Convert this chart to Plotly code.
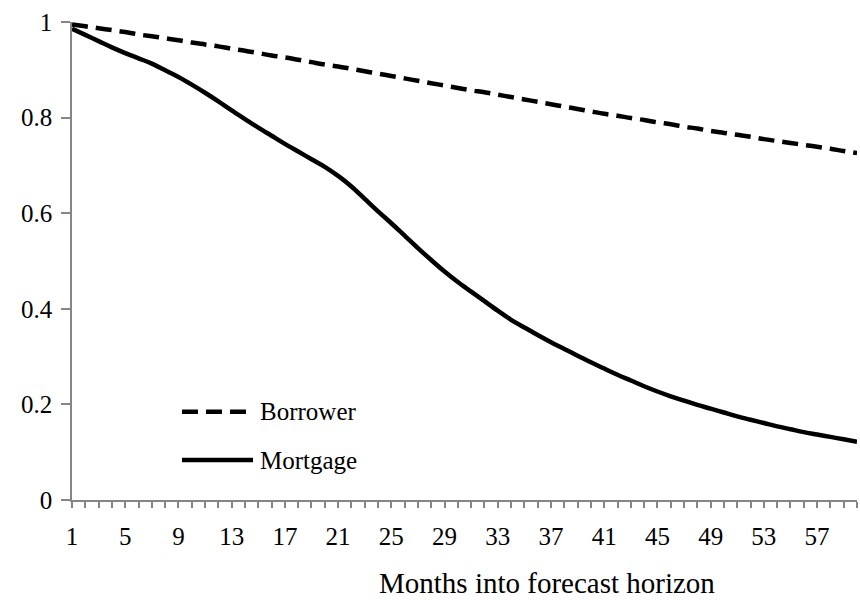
import plotly.graph_objects as go

months = list(range(1, 61))

borrower = [0.995, 0.991, 0.987, 0.983, 0.979, 0.974, 0.970, 0.966, 0.962, 0.957,
            0.953, 0.949, 0.944, 0.940, 0.935, 0.930, 0.926, 0.921, 0.916, 0.911,
            0.907, 0.902, 0.897, 0.892, 0.887, 0.882, 0.877, 0.872, 0.867, 0.862,
            0.857, 0.853, 0.848, 0.843, 0.838, 0.833, 0.828, 0.823, 0.818, 0.813,
            0.808, 0.804, 0.799, 0.795, 0.790, 0.786, 0.781, 0.777, 0.772, 0.768,
            0.764, 0.760, 0.755, 0.751, 0.747, 0.743, 0.739, 0.735, 0.730, 0.726]

mortgage = [0.986, 0.973, 0.960, 0.947, 0.935, 0.924, 0.913, 0.899, 0.885, 0.869,
            0.852, 0.834, 0.815, 0.797, 0.779, 0.762, 0.745, 0.729, 0.713, 0.697,
            0.678, 0.656, 0.630, 0.604, 0.579, 0.553, 0.527, 0.502, 0.478, 0.456,
            0.436, 0.416, 0.396, 0.377, 0.361, 0.345, 0.330, 0.316, 0.302, 0.288,
            0.275, 0.262, 0.250, 0.238, 0.227, 0.217, 0.208, 0.199, 0.191, 0.183,
            0.175, 0.168, 0.161, 0.154, 0.148, 0.142, 0.137, 0.132, 0.127, 0.122]

tick_labels = [str(m) if (m - 1) % 4 == 0 else "" for m in months]
y_ticks = [0, 0.2, 0.4, 0.6, 0.8, 1]
y_tick_labels = ["0", "0.2", "0.4", "0.6", "0.8", "1"]

FONT = "Liberation Serif"
AXIS_COLOR = "#868686"

fig = go.Figure()
fig.add_trace(go.Scatter(x=months, y=borrower, mode="lines", name="Borrower",
                         line=dict(color="black", width=4.5, dash="16px,8px", shape="spline")))
fig.add_trace(go.Scatter(x=months, y=mortgage, mode="lines", name="Mortgage",
                         line=dict(color="black", width=4.5, shape="spline")))

# legend drawn manually
L, R, T, B = 72, 857, 22, 500
def px(p):
    return (p - L) / (R - L)
def py(p):
    return (B - p) / (B - T)

fig.add_shape(type="line", xref="paper", yref="paper", x0=px(182), x1=px(246), y0=py(411.7), y1=py(411.7),
              line=dict(color="black", width=4.5, dash="16px,8px"))
fig.add_shape(type="line", xref="paper", yref="paper", x0=px(182), x1=px(253), y0=py(460), y1=py(460),
              line=dict(color="black", width=4.5))
fig.add_annotation(x=px(258), y=py(411.7), xref="paper", yref="paper", text="Borrower",
                   showarrow=False, xanchor="left", yanchor="middle",
                   font=dict(family=FONT, size=25, color="black"))
fig.add_annotation(x=px(258), y=py(460), xref="paper", yref="paper", text="Mortgage",
                   showarrow=False, xanchor="left", yanchor="middle",
                   font=dict(family=FONT, size=25, color="black"))
fig.add_annotation(x=px(547), y=py(583), xref="paper", yref="paper", text="Months into forecast horizon",
                   showarrow=False, xanchor="center", yanchor="middle",
                   font=dict(family=FONT, size=29, color="black"))

fig.update_layout(
    width=860, height=600,
    margin=dict(l=L, r=860 - R, t=T, b=600 - B),
    paper_bgcolor="white", plot_bgcolor="white",
    showlegend=False,
    font=dict(family=FONT, size=25, color="black"),
)
fig.update_xaxes(range=[1, 60], tickmode="array", tickvals=months, ticktext=tick_labels,
                 ticks="outside", ticklen=6, tickwidth=1.5, tickcolor=AXIS_COLOR,
                 showline=True, linecolor=AXIS_COLOR, linewidth=1.5,
                 showgrid=False, zeroline=False, tickangle=0, ticklabelstandoff=7,
                 tickfont=dict(family=FONT, size=25, color="black"))
fig.update_yaxes(range=[0, 1], tickmode="array", tickvals=y_ticks, ticktext=y_tick_labels,
                 ticks="outside", ticklen=9, tickwidth=1.5, tickcolor=AXIS_COLOR,
                 showline=True, linecolor=AXIS_COLOR, linewidth=1.5,
                 showgrid=False, zeroline=False, ticklabelstandoff=4,
                 tickfont=dict(family=FONT, size=25, color="black"))

fig.write_html("out.html", config={"displayModeBar": False},
               post_script="document.body.style.margin='0px';")
